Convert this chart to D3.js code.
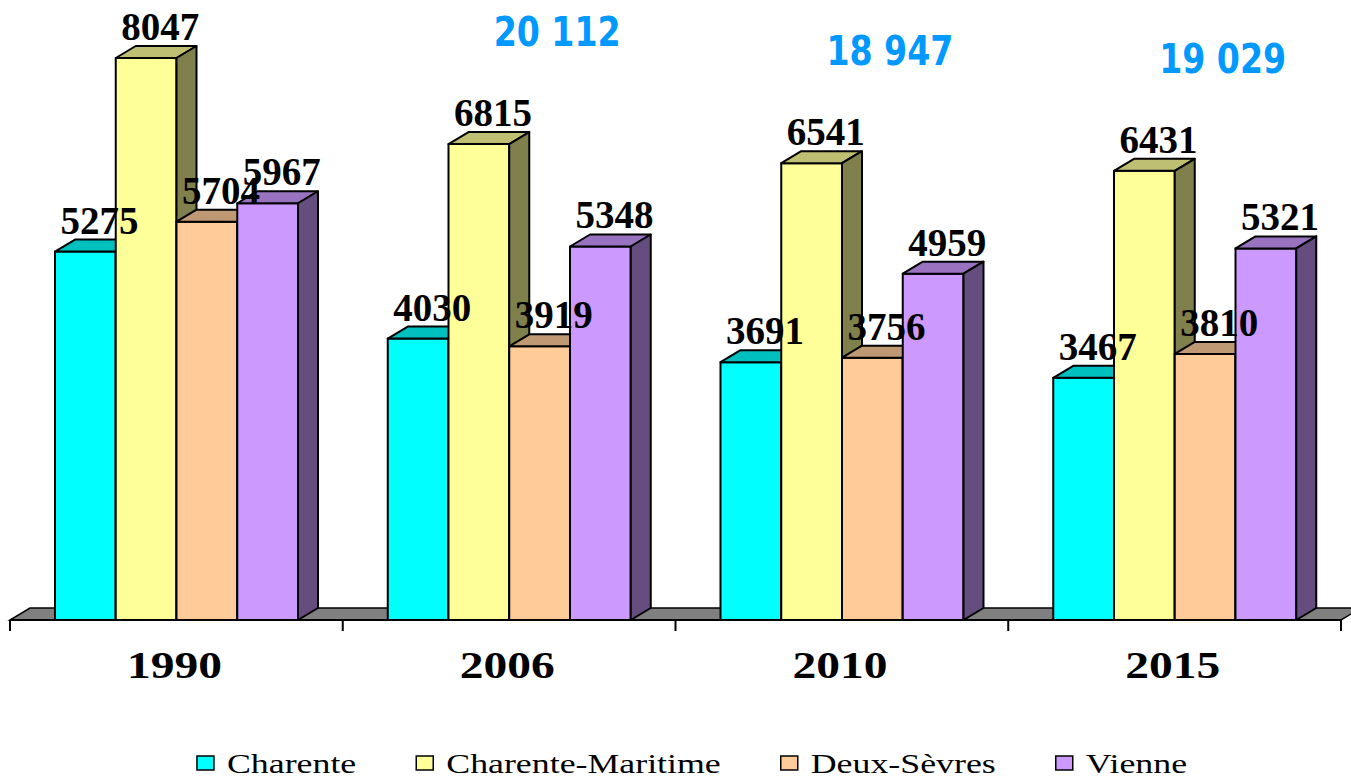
<!DOCTYPE html>
<html>
<head>
<meta charset="utf-8">
<script src="https://cdn.jsdelivr.net/npm/d3@7"></script>
<style>
body { margin: 0; background: #fff; }
text { font-family: "Liberation Serif", "Times New Roman", serif; }
</style>
</head>
<body>
<script>
// data
const years = ["1990", "2006", "2010", "2015"];
const series = ["Charente", "Charente-Maritime", "Deux-Sèvres", "Vienne"];
const charente = [5275, 4030, 3691, 3467];
const charenteMaritime = [8047, 6815, 6541, 6431];
const deuxSevres = [5704, 3919, 3756, 3810];
const vienne = [5967, 5348, 4959, 5321];
const totalYears = ["2006", "2010", "2015"]; // years with a blue total above
const colors = ["#00FFFF", "#FFFF99", "#FFCC99", "#CC99FF"];

const w = 1351;
const h = 778;
const svg = d3.select("body").append("svg")
  .attr("width", w)
  .attr("height", h)
  .style("background", "#fff");

const values = [charente, charenteMaritime, deuxSevres, vienne];
const rows = [];
years.forEach((yr, i) => {
  series.forEach((s, j) => {
    rows.push({ year: yr, series: s, value: values[j][i], color: colors[j] });
  });
});

const floorY = 620;
const dx = 20, dy = 12; // 3d depth
const x = d3.scaleBand().domain(years).range([10, 1341]);
const xs = d3.scaleBand().domain(series).range([45, 288]);
const y = d3.scaleLinear().domain([0, d3.max(charenteMaritime)]).range([floorY, 58]);
const bw = xs.bandwidth();

const shade = (c, k) => {
  const r = d3.rgb(c);
  return d3.rgb(r.r * k, r.g * k, r.b * k).toString();
};

// floor
const [x0, x1] = x.range();
svg.append("path")
  .attr("d", `M${x0},${floorY} L${x1},${floorY} L${x1 + dx},${floorY - dy} L${x0 + dx},${floorY - dy} Z`)
  .style("fill", "#808080")
  .style("stroke", "#000")
  .style("stroke-width", 1.5);

// bars, left to right so each front face covers the previous side
const bars = svg.append("g");
rows.forEach(d => {
  const bx = x(d.year) + xs(d.series);
  const top = y(d.value);
  const g = bars.append("g")
    .style("stroke", "#000")
    .style("stroke-width", 2)
    .style("stroke-linejoin", "round");
  g.append("rect")
    .attr("x", bx).attr("y", top)
    .attr("width", bw).attr("height", floorY - top)
    .style("fill", d.color);
  g.append("path")
    .attr("d", `M${bx},${top} L${bx + dx},${top - dy} L${bx + bw + dx},${top - dy} L${bx + bw},${top} Z`)
    .style("fill", shade(d.color, 0.75));
  g.append("path")
    .attr("d", `M${bx + bw},${top} L${bx + bw + dx},${top - dy} L${bx + bw + dx},${floorY - dy} L${bx + bw},${floorY} Z`)
    .style("fill", shade(d.color, 0.5));
});

// axis line and ticks at the band edges
const axis = svg.append("g").style("stroke", "#000").style("stroke-width", 2);
axis.append("line").attr("x1", x0).attr("x2", x1).attr("y1", floorY).attr("y2", floorY);
years.concat(["end"]).forEach(yr => {
  const tx = yr === "end" ? x1 : x(yr);
  axis.append("line").attr("x1", tx).attr("x2", tx).attr("y1", floorY).attr("y2", floorY + 11);
});

// year labels
svg.selectAll("text.year").data(years)
  .join("text")
  .attr("class", "year")
  .attr("x", d => x(d) + x.bandwidth() / 2 - 2)
  .attr("y", 678)
  .attr("text-anchor", "middle")
  .attr("textLength", 95)
  .attr("lengthAdjust", "spacingAndGlyphs")
  .style("font-size", "38px")
  .style("font-weight", "bold")
  .text(d => d);

// value labels
svg.selectAll("text.val").data(rows)
  .join("text")
  .attr("class", "val")
  .attr("x", d => x(d.year) + xs(d.series) + bw / 2 + 14)
  .attr("y", d => y(d.value) - 18)
  .attr("text-anchor", "middle")
  .attr("textLength", 78)
  .attr("lengthAdjust", "spacingAndGlyphs")
  .style("font-size", "39px")
  .style("font-weight", "bold")
  .text(d => d.value);

// blue totals
const fmt = v => d3.format(",")(v).replace(/,/g, " ");
svg.selectAll("text.total").data(totalYears)
  .join("text")
  .attr("class", "total")
  .attr("x", d => x(d) + x.bandwidth() / 2 + 48)
  .attr("y", d => y(charenteMaritime[years.indexOf(d)]) - 98)
  .attr("text-anchor", "middle")
  .attr("textLength", 127)
  .attr("lengthAdjust", "spacingAndGlyphs")
  .style("font-family", "'DejaVu Sans', Verdana, sans-serif")
  .style("font-size", "41px")
  .style("font-weight", "bold")
  .style("fill", "#0099FF")
  .text(d => {
    const i = years.indexOf(d);
    return fmt(d3.sum(values, v => v[i]));
  });

// legend
const legend = svg.append("g");
let lx = 0;
series.forEach((s, j) => {
  const item = legend.append("g").attr("transform", `translate(${lx},0)`);
  item.append("rect")
    .attr("x", 0).attr("y", 756)
    .attr("width", 17).attr("height", 14)
    .style("fill", colors[j])
    .style("stroke", "#000")
    .style("stroke-width", 1.5);
  const t = item.append("text")
    .attr("transform", "translate(30,773) scale(1.28,1)")
    .style("font-size", "28px")
    .text(s);
  const tw = t.node().getComputedTextLength() * 1.28;
  lx += 30 + tw + 60;
});
const legendW = lx - 60;
legend.attr("transform", `translate(${(179 + 1205) / 2 - legendW / 2},0)`);
</script>
</body>
</html>
